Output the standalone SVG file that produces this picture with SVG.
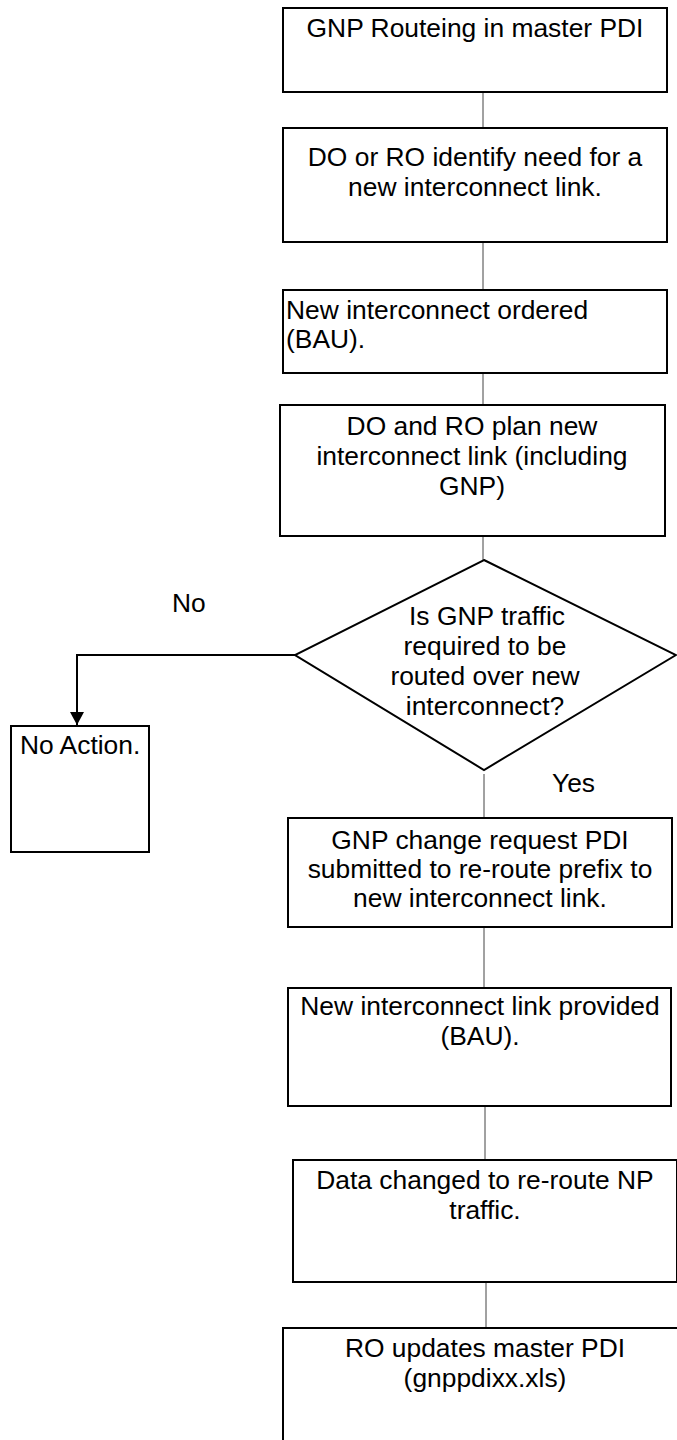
<svg xmlns="http://www.w3.org/2000/svg" width="677" height="1440" viewBox="0 0 677 1440">
<style>
.box{fill:#fff;stroke:#000;stroke-width:2}
.t{font-family:"Liberation Sans",Arial,sans-serif;font-size:26.4px;fill:#000}
.m{text-anchor:middle}
.c{stroke:#444;stroke-width:1;fill:none}
.a{stroke:#000;stroke-width:2;fill:none}
</style>
<defs>
<marker id="arr" markerWidth="14" markerHeight="14" refX="13" refY="7" orient="auto" markerUnits="userSpaceOnUse">
<path d="M0,0 L13,7 L0,14 Z" fill="#000"/>
</marker>
</defs>
<rect width="677" height="1440" fill="#fff"/>
<g id="connectors">
<line class="c" x1="483" y1="92" x2="483" y2="128"/>
<line class="c" x1="483" y1="242" x2="483" y2="290"/>
<line class="c" x1="483" y1="373" x2="483" y2="405"/>
<line class="c" x1="483" y1="536" x2="483" y2="560"/>
<line class="c" x1="484" y1="774" x2="484" y2="818"/>
<line class="c" x1="484" y1="927" x2="484" y2="988"/>
<line class="c" x1="485" y1="1106" x2="485" y2="1160"/>
<line class="c" x1="486" y1="1282" x2="486" y2="1328"/>
<polyline class="a" points="295,655 77,655 77,725" marker-end="url(#arr)"/>
<text class="t" x="172" y="612">No</text>
<text class="t" x="552" y="792">Yes</text>
</g>
<g id="n1">
<rect class="box" x="283" y="8" width="384" height="84"/>
<text class="t m" x="475" y="37">GNP Routeing in master PDI</text>
</g>
<g id="n2">
<rect class="box" x="283" y="128" width="384" height="114"/>
<text class="t m" x="475" y="166">DO or RO identify need for a</text>
<text class="t m" x="475" y="196">new interconnect link.</text>
</g>
<g id="n3">
<rect class="box" x="283" y="290" width="384" height="83"/>
<text class="t" x="286" y="319">New interconnect ordered</text>
<text class="t" x="286" y="348">(BAU).</text>
</g>
<g id="n4">
<rect class="box" x="280" y="405" width="385" height="131"/>
<text class="t m" x="472" y="435">DO and RO plan new</text>
<text class="t m" x="472" y="465">interconnect link (including</text>
<text class="t m" x="472" y="495">GNP)</text>
</g>
<g id="n5">
<polygon class="box" points="484,560 676,655 484,770 295,655"/>
<text class="t m" x="487" y="625">Is GNP traffic</text>
<text class="t m" x="485" y="655">required to be</text>
<text class="t m" x="485" y="685">routed over new</text>
<text class="t m" x="485" y="715">interconnect?</text>
</g>
<g id="n6">
<rect class="box" x="11" y="726" width="138" height="126"/>
<text class="t" x="20" y="754">No Action.</text>
</g>
<g id="n7">
<rect class="box" x="288" y="818" width="384" height="109"/>
<text class="t m" x="480" y="849">GNP change request PDI</text>
<text class="t m" x="480" y="878">submitted to re-route prefix to</text>
<text class="t m" x="480" y="907">new interconnect link.</text>
</g>
<g id="n8">
<rect class="box" x="288" y="988" width="383" height="118"/>
<text class="t m" x="480" y="1015">New interconnect link provided</text>
<text class="t m" x="480" y="1045">(BAU).</text>
</g>
<g id="n9">
<rect class="box" x="293" y="1160" width="384" height="122"/>
<text class="t m" x="485" y="1189">Data changed to re-route NP</text>
<text class="t m" x="485" y="1219">traffic.</text>
</g>
<g id="n10">
<rect class="box" x="283" y="1328" width="400" height="120"/>
<text class="t m" x="485" y="1357">RO updates master PDI</text>
<text class="t m" x="485" y="1387">(gnppdixx.xls)</text>
</g>
</svg>
